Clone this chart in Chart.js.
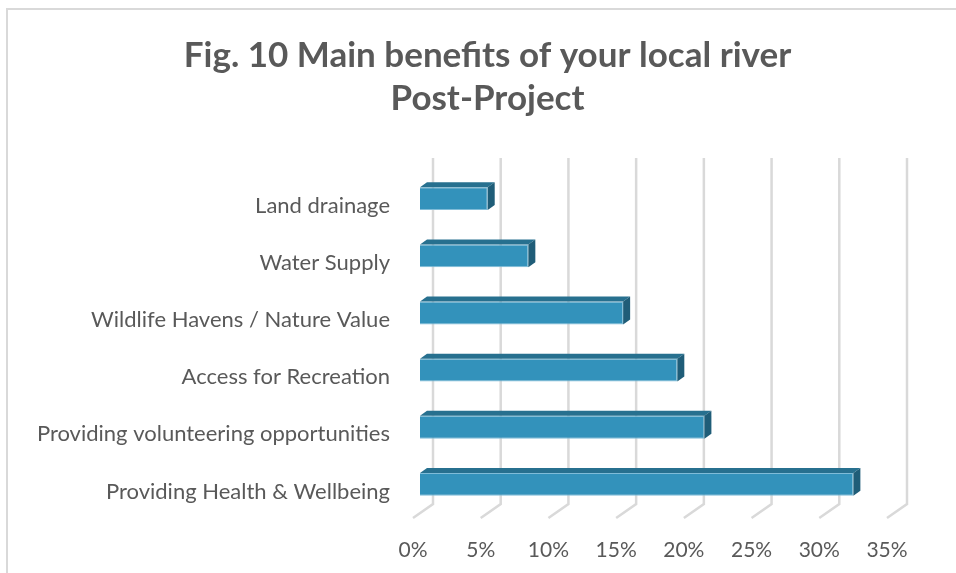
<!DOCTYPE html>
<html>
<head>
<meta charset="utf-8">
<script src="https://cdn.jsdelivr.net/npm/chart.js@4"></script>
<style>
  html, body { margin: 0; padding: 0; background: #fff; overflow: hidden; }
  #wrap { position: relative; width: 956px; height: 573px; }
  #frame { position: absolute; left: 6px; top: 8px; width: 1200px; height: 900px; border: 2px solid #d9d9d9; box-sizing: border-box; }
  canvas { position: absolute; left: 0; top: 0; }
</style>
</head>
<body>
<div id="wrap">
  <div id="frame"></div>
  <canvas id="benefitsChart" width="956" height="573"></canvas>
</div>
<script>
const categories = [
  "Land drainage",
  "Water Supply",
  "Wildlife Havens / Nature Value",
  "Access for Recreation",
  "Providing volunteering opportunities",
  "Providing Health & Wellbeing"
];
const shares = [5, 8, 15, 19, 21, 32];   // percent of respondents
const tickMax = 35;
const tickStep = 5;

const grey = "#595959";
const gridColor = "#d9d9d9";

// fake 3d: wall sits behind the bars, floor edge in front of them
const wallDx = 13, wallDy = -9;
const floorDx = -7, floorDy = 5;
const depthDx = 7, depthDy = -5;

const depthPlugin = {
  id: "depth3d",
  afterLayout(chart) {
    // centre the title over the whole frame, not just the plot side
    const tb = chart.titleBlock;
    if (tb) { tb.left = 21; tb.right = 954; }
  },
  beforeDatasetsDraw(chart) {
    const { ctx, chartArea, scales } = chart;
    const x = scales.x;
    ctx.save();
    ctx.strokeStyle = gridColor;
    ctx.lineWidth = 2.5;
    x.ticks.forEach((t) => {
      const px = x.getPixelForValue(t.value);
      ctx.beginPath();
      ctx.moveTo(px + wallDx, chartArea.top + wallDy - 3);
      ctx.lineTo(px + wallDx, chartArea.bottom + wallDy);
      ctx.lineTo(px + floorDx, chartArea.bottom + floorDy);
      ctx.stroke();
    });
    ctx.restore();
  },
  afterDatasetsDraw(chart) {
    const { ctx } = chart;
    const meta = chart.getDatasetMeta(0);
    ctx.save();
    meta.data.forEach((bar) => {
      const h = bar.height;
      const top = bar.y - h / 2;
      const bottom = bar.y + h / 2;
      const left = bar.base;
      const right = bar.x;
      // top face
      ctx.fillStyle = "#27708f";
      ctx.beginPath();
      ctx.moveTo(left, top);
      ctx.lineTo(right, top);
      ctx.lineTo(right + depthDx, top + depthDy);
      ctx.lineTo(left + depthDx, top + depthDy);
      ctx.closePath();
      ctx.fill();
      // end face
      ctx.fillStyle = "#1f5d78";
      ctx.beginPath();
      ctx.moveTo(right, top);
      ctx.lineTo(right + depthDx, top + depthDy);
      ctx.lineTo(right + depthDx, bottom + depthDy);
      ctx.lineTo(right, bottom);
      ctx.closePath();
      ctx.fill();
    });
    ctx.restore();
  }
};

new Chart(document.getElementById("benefitsChart"), {
  type: "bar",
  data: {
    labels: categories,
    datasets: [{
      data: shares,
      backgroundColor: "#3392bb",
      borderColor: "#7fbcd8",
      borderWidth: 1,
      barPercentage: 0.4,
      categoryPercentage: 1
    }]
  },
  options: {
    indexAxis: "y",
    responsive: false,
    animation: false,
    layout: { padding: { top: 34, right: 62, bottom: 0, left: 0 } },
    plugins: {
      legend: { display: false },
      tooltip: { enabled: false },
      title: {
        display: true,
        text: ["Fig. 10 Main benefits of your local river", "Post-Project"],
        color: grey,
        font: { family: "Lato", size: 35, weight: "bold", lineHeight: 1.23 },
        padding: { top: 0, bottom: 50 }
      }
    },
    scales: {
      x: {
        min: 0,
        max: tickMax,
        grid: { display: false, drawTicks: false },
        border: { display: false },
        ticks: {
          stepSize: tickStep,
          color: grey,
          font: { family: "Lato", size: 21 },
          padding: 25,
          labelOffset: floorDx,
          callback: (v) => v + "%"
        },
        afterFit: (s) => { s.height = 60; }
      },
      y: {
        grid: { display: false, drawTicks: false },
        border: { display: false },
        ticks: {
          color: grey,
          font: { family: "Lato", size: 22 },
          padding: 30,
          labelOffset: 7
        },
        afterFit: (s) => { s.width = 420; }
      }
    }
  },
  plugins: [depthPlugin]
});
</script>
</body>
</html>
